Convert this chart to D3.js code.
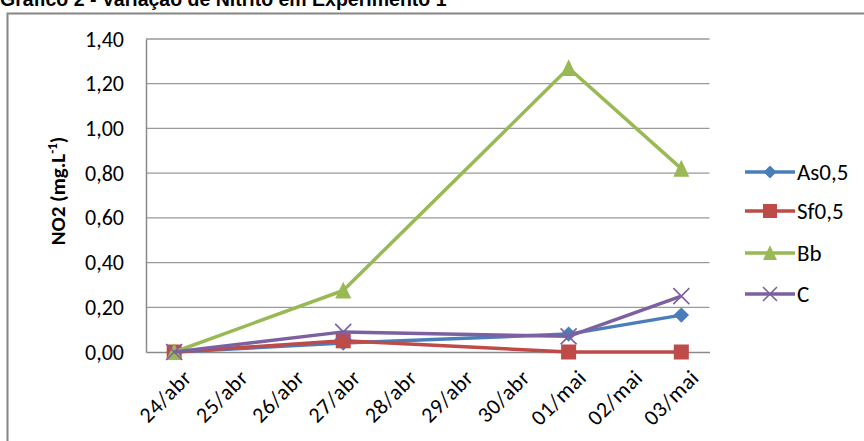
<!DOCTYPE html>
<html>
<head>
<meta charset="utf-8">
<script src="https://cdn.jsdelivr.net/npm/d3@7"></script>
<style>
  body { margin: 0; background: #fff; }
  svg { display: block; }
</style>
</head>
<body>
<div id="chart"></div>
<script>
let width = 864;
let height = 441;

// dados
let dates = ["24/abr", "25/abr", "26/abr", "27/abr", "28/abr", "29/abr", "30/abr", "01/mai", "02/mai", "03/mai"];
let as05 = [0.00, null, null, 0.04, null, null, null, 0.08, null, 0.165];
let sf05 = [0.00, null, null, 0.05, null, null, null, 0.00, null, 0.00];
let bb = [0.00, null, null, 0.275, null, null, null, 1.27, null, 0.82];
let ctrl = [0.00, null, null, 0.09, null, null, null, 0.07, null, 0.25];
let yTicks = [0, 0.2, 0.4, 0.6, 0.8, 1.0, 1.2, 1.4];

let series = [
	{name: "As0,5", values: as05, color: "#4A7EBB", marker: "diamond"},
	{name: "Sf0,5", values: sf05, color: "#BE4B48", marker: "square"},
	{name: "Bb", values: bb, color: "#98B954", marker: "triangle"},
	{name: "C", values: ctrl, color: "#7D60A0", marker: "x"}
];

let svg = d3.select("#chart").append("svg")
	.attr("width", width).attr("height", height);

// borda externa
svg.append("rect")
	.attr("x", 7.5).attr("y", 13.5)
	.attr("width", 900).attr("height", 500)
	.attr("fill", "none").attr("stroke", "#868686").attr("stroke-width", 2);

// título (cortado no topo)
svg.append("text")
	.attr("x", 0).attr("y", 6)
	.attr("font-family", "Liberation Sans, Arial, sans-serif")
	.attr("font-weight", "bold").attr("font-size", 19.5)
	.attr("fill", "#000")
	.text("Gráfico 2 - Variação de Nitrito em Experimento 1");

let x = d3.scaleBand().domain(dates).range([146, 709.5]);
let y = d3.scaleLinear().domain([0, 1.4]).range([352, 39]);

let fmt = v => d3.format(".2f")(v).replace(".", ",");
let tickFont = "Carlito, Calibri, 'Open Sans', sans-serif";

// grade horizontal
svg.append("g").selectAll("line").data(yTicks.slice(1))
	.join("line")
	.attr("x1", 146).attr("x2", 709.5)
	.attr("y1", d => y(d)).attr("y2", d => y(d))
	.attr("stroke", "#9a9a9a").attr("stroke-width", 1.3);

// eixo Y
let yAxis = svg.append("g").attr("transform", "translate(146,0)")
	.call(d3.axisLeft(y).tickValues(yTicks).tickFormat(fmt).tickSize(0).tickPadding(22));
yAxis.select(".domain").attr("stroke", "#8a8a8a").attr("stroke-width", 1.5);
yAxis.selectAll("text")
	.attr("font-family", tickFont).attr("font-size", 22).attr("fill", "#000");

// eixo X
let xAxis = svg.append("g").attr("transform", "translate(0,352)")
	.call(d3.axisBottom(x).tickSize(0).tickPadding(0));
xAxis.select(".domain").attr("stroke", "#8a8a8a").attr("stroke-width", 1.5);
xAxis.selectAll("text")
	.attr("font-family", tickFont).attr("font-size", 22).attr("fill", "#000")
	.attr("letter-spacing", 0.6)
	.attr("text-anchor", "end")
	.attr("dy", 0)
	.attr("transform", "translate(19,27) rotate(-45)");

// título do eixo Y
let yTitle = svg.append("text")
	.attr("transform", "translate(65,191) rotate(-90)")
	.attr("text-anchor", "middle")
	.attr("font-family", tickFont).attr("font-weight", "bold").attr("font-size", 21)
	.attr("fill", "#000");
yTitle.append("tspan").text("NO2 (mg.L");
yTitle.append("tspan").attr("font-size", 13).attr("dy", -8).text("-1");
yTitle.append("tspan").attr("dy", 8).text(")");

function drawMarker(g, type, color, size) {
	if (type == "diamond") {
		g.append("path").attr("d", d3.symbol(d3.symbolDiamond2, size * size * 0.9)()).attr("fill", color);
	} else if (type == "square") {
		g.append("rect").attr("x", -size / 2).attr("y", -size / 2)
			.attr("width", size).attr("height", size).attr("fill", color);
	} else if (type == "triangle") {
		let s = size / 2;
		g.append("path").attr("d", `M0,${-s * 1.1}L${s},${s}L${-s},${s}Z`).attr("fill", color);
	} else {
		let s = size / 2;
		g.append("path").attr("d", `M${-s},${-s}L${s},${s}M${-s},${s}L${s},${-s}`)
			.attr("stroke", color).attr("stroke-width", 1.6).attr("fill", "none");
	}
}

let line = d3.line()
	.defined(d => d[1] != null)
	.x(d => x(d[0]) + x.bandwidth() / 2)
	.y(d => y(d[1]));

let markerSize = {diamond: 13, square: 15, triangle: 16, x: 16};

series.forEach(s => {
	let pts = dates.map((d, i) => [d, s.values[i]]).filter(p => p[1] != null);
	svg.append("path").datum(pts)
		.attr("d", line)
		.attr("fill", "none").attr("stroke", s.color)
		.attr("stroke-width", 3.5).attr("stroke-linejoin", "round");
	svg.append("g").selectAll("g").data(pts).join("g")
		.attr("transform", p => `translate(${x(p[0]) + x.bandwidth() / 2},${y(p[1])})`)
		.each(function() { drawMarker(d3.select(this), s.marker, s.color, markerSize[s.marker]); });
});

// legenda
let legend = svg.append("g").selectAll("g").data(series).join("g")
	.attr("transform", (d, i) => `translate(745,${[172, 211, 253, 294][i]})`);
legend.append("line").attr("x1", 0).attr("x2", 50)
	.attr("stroke", d => d.color).attr("stroke-width", 3.5);
legend.each(function(d) {
	let g = d3.select(this).append("g").attr("transform", "translate(25,0)");
	drawMarker(g, d.marker, d.color, d.marker == "diamond" ? 11 : 14);
});
legend.append("text")
	.attr("x", 52).attr("dy", "0.35em")
	.attr("font-family", tickFont).attr("font-size", 23).attr("fill", "#000")
	.text(d => d.name);
</script>
</body>
</html>
